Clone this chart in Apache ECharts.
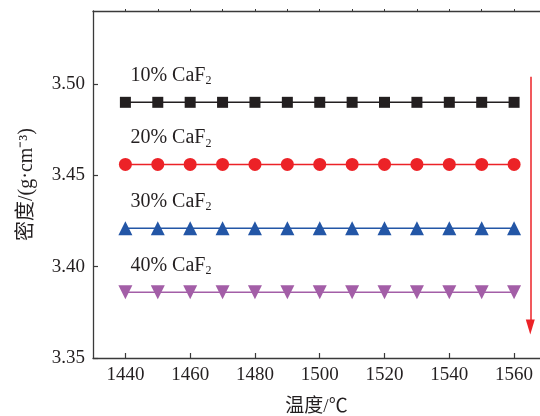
<!DOCTYPE html>
<html>
<head>
<meta charset="utf-8">
<script src="https://cdn.jsdelivr.net/npm/echarts@6/dist/echarts.min.js"></script>
<style>
html,body{margin:0;padding:0;background:#fff;}
#c{width:540px;height:416px;}
</style>
</head>
<body>
<div id="c"></div>
<script>
const temps = [1440, 1450, 1460, 1470, 1480, 1490, 1500, 1510, 1520, 1530, 1540, 1550, 1560];
const caf10 = [3.490, 3.490, 3.490, 3.490, 3.490, 3.490, 3.490, 3.490, 3.490, 3.490, 3.490, 3.490, 3.490];
const caf20 = [3.456, 3.456, 3.456, 3.456, 3.456, 3.456, 3.456, 3.456, 3.456, 3.456, 3.456, 3.456, 3.456];
const caf30 = [3.421, 3.421, 3.421, 3.421, 3.421, 3.421, 3.421, 3.421, 3.421, 3.421, 3.421, 3.421, 3.421];
const caf40 = [3.386, 3.386, 3.386, 3.386, 3.386, 3.386, 3.386, 3.386, 3.386, 3.386, 3.386, 3.386, 3.386];
const seriesNames = ['10% CaF', '20% CaF', '30% CaF', '40% CaF'];
const xTickLabels = [1440, 1460, 1480, 1500, 1520, 1540, 1560];
const yTickLabels = [3.35, 3.40, 3.45, 3.50];

const serif = '"Liberation Serif","Times New Roman","Noto Sans CJK SC",serif';
const axisColor = '#3a3a3a';
const colors = ['#231f20', '#ec2227', '#2356a6', '#a35ea7'];
const symbols = ['rect', 'circle', 'triangle', 'triangle'];
const symSizes = [11, 13, 14, 14];
const rotates = [0, 0, 0, 180];
const allData = [caf10, caf20, caf30, caf40];

const chart = echarts.init(document.getElementById('c'));

const series = allData.map((d, i) => ({
  type: 'line',
  name: seriesNames[i],
  data: temps.map((t, k) => [t, d[k]]),
  symbol: symbols[i],
  symbolSize: symSizes[i],
  symbolRotate: rotates[i],
  showAllSymbol: true,
  lineStyle: {color: colors[i], width: 1.5},
  itemStyle: {color: colors[i]},
  animation: false,
  z: 3
}));

series[0].markLine = {
  silent: true,
  symbol: ['none', 'triangle'],
  symbolSize: [9, 15],
  lineStyle: {color: '#ec2227', width: 1.5, type: 'solid'},
  label: {show: false},
  data: [[{coord: [1565, 3.504]}, {coord: [1565, 3.367]}]],
  animation: false
};

chart.setOption({
  animation: false,
  grid: {left: 93, top: 11, right: 0, bottom: 58, containLabel: false, outerBoundsMode: 'none'},
  xAxis: [{
    type: 'value',
    min: 1430, max: 1568,
    position: 'bottom',
    name: '温度/℃',
    nameLocation: 'middle',
    nameGap: 40,
    nameTextStyle: {fontFamily: serif, fontSize: 19, color: '#231f20'},
    axisLine: {show: true, lineStyle: {color: axisColor, width: 1.3}},
    axisTick: {show: true, inside: true, length: 5, customValues: xTickLabels, lineStyle: {color: axisColor, width: 1.2}},
    axisLabel: {customValues: xTickLabels, formatter: v => String(v), fontFamily: serif, fontSize: 19, color: '#231f20', margin: 8},
    splitLine: {show: false}
  }, {
    type: 'value',
    min: 1430, max: 1568,
    position: 'top',
    axisLine: {show: true, lineStyle: {color: axisColor, width: 1.3}},
    axisTick: {show: true, inside: false, length: 2, customValues: temps, lineStyle: {color: axisColor, width: 1}},
    axisLabel: {show: false},
    splitLine: {show: false}
  }],
  yAxis: {
    type: 'value',
    min: 3.35, max: 3.54,
    name: '密度/(g·cm⁻³)',
    nameLocation: 'middle',
    nameGap: 56,
    nameTextStyle: {fontFamily: serif, fontSize: 20, color: '#231f20'},
    axisLine: {show: true, lineStyle: {color: axisColor, width: 1.3}},
    axisTick: {show: true, inside: true, length: 5, customValues: yTickLabels, lineStyle: {color: axisColor, width: 1.2}},
    axisLabel: {customValues: yTickLabels, formatter: v => v.toFixed(2), fontFamily: serif, fontSize: 19, color: '#231f20', margin: 8},
    splitLine: {show: false}
  },
  series: series
});

const graphics = allData.map((d, i) => {
  const p = chart.convertToPixel({xAxisIndex: 0, yAxisIndex: 0}, [temps[0], d[0]]);
  return {
    type: 'text',
    x: p[0] + 5,
    y: p[1] - 27,
    style: {
      text: '{a|' + seriesNames[i] + '}{s|2}',
      rich: {
        a: {fontFamily: serif, fontSize: 20, fill: '#231f20', lineHeight: 24, verticalAlign: 'middle'},
        s: {fontFamily: serif, fontSize: 12, fill: '#231f20', lineHeight: 24, verticalAlign: 'bottom', padding: [8, 0, 0, 0]}
      },
      verticalAlign: 'middle',
      align: 'left'
    },
    z: 10
  };
});
chart.setOption({graphic: graphics});
</script>
</body>
</html>
